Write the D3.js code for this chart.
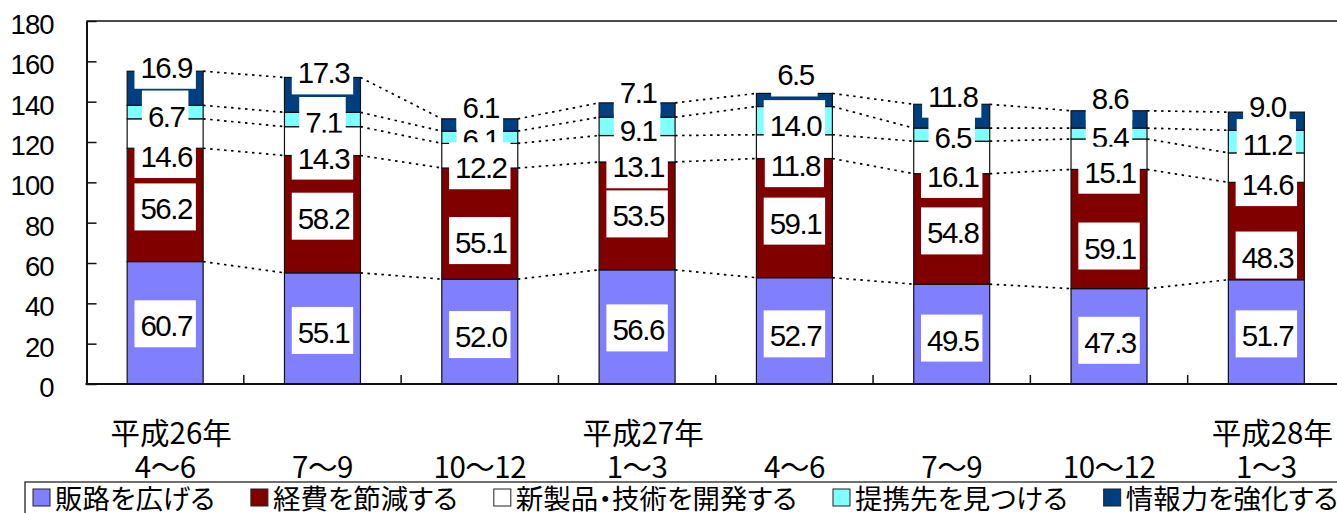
<!DOCTYPE html>
<html><head><meta charset="utf-8">
<script src="https://cdn.jsdelivr.net/npm/d3@7"></script>
<style>body{margin:0;background:#fff;} svg{display:block}</style>
</head><body><svg id="c" width="1337" height="513"></svg>
<script>
// ---- data ----
const quarters = ["4〜6","7〜9","10〜12","1〜3","4〜6","7〜9","10〜12","1〜3"];
const years = ["平成26年","","","平成27年","","","","平成28年"];
const seriesNames = ["販路を広げる","経費を節減する","新製品・技術を開発する","提携先を見つける","情報力を強化する"];
const expandSales    = [60.7,55.1,52.0,56.6,52.7,49.5,47.3,51.7];
const cutCosts       = [56.2,58.2,55.1,53.5,59.1,54.8,59.1,48.3];
const newProducts    = [14.6,14.3,12.2,13.1,11.8,16.1,15.1,14.6];
const findPartners   = [6.7,7.1,6.1,9.1,14.0,6.5,5.4,11.2];
const strengthenInfo = [16.9,17.3,6.1,7.1,6.5,11.8,8.6,9.0];
const yTicks = [0,20,40,60,80,100,120,140,160,180];

// ---- layout / style ----
const colors = ["#8080ff","#800000","#ffffff","#80ffff","#003f7f"];
// manual vertical shift (px) of each data label from its segment centre
const labelShift = [
  [3,4,5,3,5,6,6,4],
  [4,4,19,0,5,4,19,26],
  [23,17,12,18,19,19,18,17],
  [4,3,2,4,5,3,4,3],
  [-21,-22,-17,-18,-25,-20,-21,-15]
];

const series = [expandSales, cutCosts, newProducts, findPartners, strengthenInfo];
const svg = d3.select("#c");
const plot = {left:86.5, right:1345, top:21, bottom:384};
const n = quarters.length;
const pInner = 0.517;
const x = d3.scaleBand().domain(d3.range(n)).range([plot.left, plot.right])
  .paddingInner(pInner).paddingOuter(pInner/2);
const y = d3.scaleLinear().domain([0,180]).range([plot.bottom, plot.top]);
const bw = x.bandwidth();

// stacked data
const rows = d3.range(n).map(i => {
  const o = {i};
  series.forEach((s,k)=> o["s"+k] = s[i]);
  return o;
});
const stack = d3.stack().keys(series.map((s,k)=>"s"+k))(rows);

// series (dotted) lines
const gl = svg.append("g");
stack.forEach(layer => {
  for (let i=0;i<n-1;i++){
    gl.append("line")
      .attr("x1", x(i)+bw).attr("y1", y(layer[i][1]))
      .attr("x2", x(i+1)).attr("y2", y(layer[i+1][1]))
      .attr("stroke","#000").attr("stroke-width",1.7)
      .attr("stroke-dasharray","2.5,4.5");
  }
});

// bars
const gb = svg.append("g");
stack.forEach((layer,k) => {
  gb.selectAll(null).data(layer).enter().append("rect")
    .attr("x",(d,i)=>x(i)).attr("width",bw)
    .attr("y",d=>y(d[1])).attr("height",d=>y(d[0])-y(d[1]))
    .attr("fill",colors[k]).attr("stroke","#111").attr("stroke-width",1.2);
});

// axes
const yAxis = d3.axisLeft(y).tickValues(yTicks).tickSizeInner(-10).tickSizeOuter(0).tickPadding(33);
const ga = svg.append("g").attr("transform",`translate(${plot.left},0)`).call(yAxis);
ga.select(".domain").attr("stroke","#111").attr("stroke-width",2);
ga.selectAll(".tick line").attr("stroke","#111").attr("stroke-width",1.5);
ga.selectAll(".tick text").attr("font-family","Liberation Sans, Arial, sans-serif")
  .attr("font-size",27.5).attr("letter-spacing","-1px").attr("fill","#000").attr("dy","0.45em");

// top frame & bottom axis
svg.append("line").attr("x1",plot.left).attr("x2",plot.right).attr("y1",plot.top).attr("y2",plot.top)
  .attr("stroke","#111").attr("stroke-width",1.5);
svg.append("line").attr("x1",plot.right).attr("x2",plot.right).attr("y1",plot.top).attr("y2",plot.bottom)
  .attr("stroke","#111").attr("stroke-width",1.5);
svg.append("line").attr("x1",plot.left-1).attr("x2",plot.right).attr("y1",plot.bottom).attr("y2",plot.bottom)
  .attr("stroke","#111").attr("stroke-width",2);
// category boundary ticks
const step = x.step();
for (let i=1;i<n;i++){
  const xb = x(i) - step*pInner/2;
  svg.append("line").attr("x1",xb).attr("x2",xb).attr("y1",plot.bottom).attr("y2",plot.bottom-9)
    .attr("stroke","#111").attr("stroke-width",1.5);
}

// category labels
const cjk = "'Noto Sans CJK JP', sans-serif";
const gx = svg.append("g").attr("font-family",cjk).attr("font-size",29.5).attr("text-anchor","middle").attr("fill","#000");
gx.selectAll(null).data(quarters).enter().append("text")
  .attr("x",(d,i)=>x(i)+bw/2).attr("y",465).attr("dominant-baseline","central").attr("letter-spacing","-0.5px").text(d=>d);
gx.selectAll(null).data(years).enter().append("text")
  .attr("x",(d,i)=>x(i)+bw/2+6).attr("y",431).attr("dominant-baseline","central").attr("letter-spacing","0px").text(d=>d);

// data labels (drawn in order s1, s2, s4, s5, s3)
const labelOrder = [0,1,3,4,2];
const gt = svg.append("g");
const fmt = d3.format(".1f");
labelOrder.forEach(k => {
  const layer = stack[k];
  layer.forEach((d,i) => {
    const cx = x(i)+bw/2;
    const cy = y((d[0]+d[1])/2) + labelShift[k][i];
    const g = gt.append("g");
    const r = g.append("rect").attr("fill","#fff");
    const t = g.append("text").attr("x",cx+1).attr("y",cy).attr("text-anchor","middle")
      .attr("dominant-baseline","central")
      .attr("font-family","Liberation Sans, Arial, sans-serif").attr("font-size",29.5)
      .attr("letter-spacing","-1.5px").attr("fill","#000").text(fmt(series[k][i]));
    const w = t.node().getComputedTextLength();
    r.attr("x",cx - (w+10)/2).attr("width",w+10).attr("y",cy-2-23.5).attr("height",47);
  });
});

// legend
const lg = svg.append("g");
lg.append("rect").attr("x",25).attr("y",482).attr("width",1330).attr("height",45)
  .attr("fill","#fff").attr("stroke","#111").attr("stroke-width",1.2);
let lx = 33;
seriesNames.forEach((name,k) => {
  lg.append("rect").attr("x",lx).attr("y",489).attr("width",17).attr("height",17)
    .attr("fill",colors[k]).attr("stroke","#222").attr("stroke-width",1);
  const t = lg.append("text").attr("x",lx+22).attr("y",497).attr("dominant-baseline","central")
    .attr("font-family",cjk).attr("font-size",27.5).style("font-feature-settings","'palt'")
    .attr("fill","#000").text(name);
  lx += 22 + t.node().getComputedTextLength() + 36;
});
</script></body></html>
